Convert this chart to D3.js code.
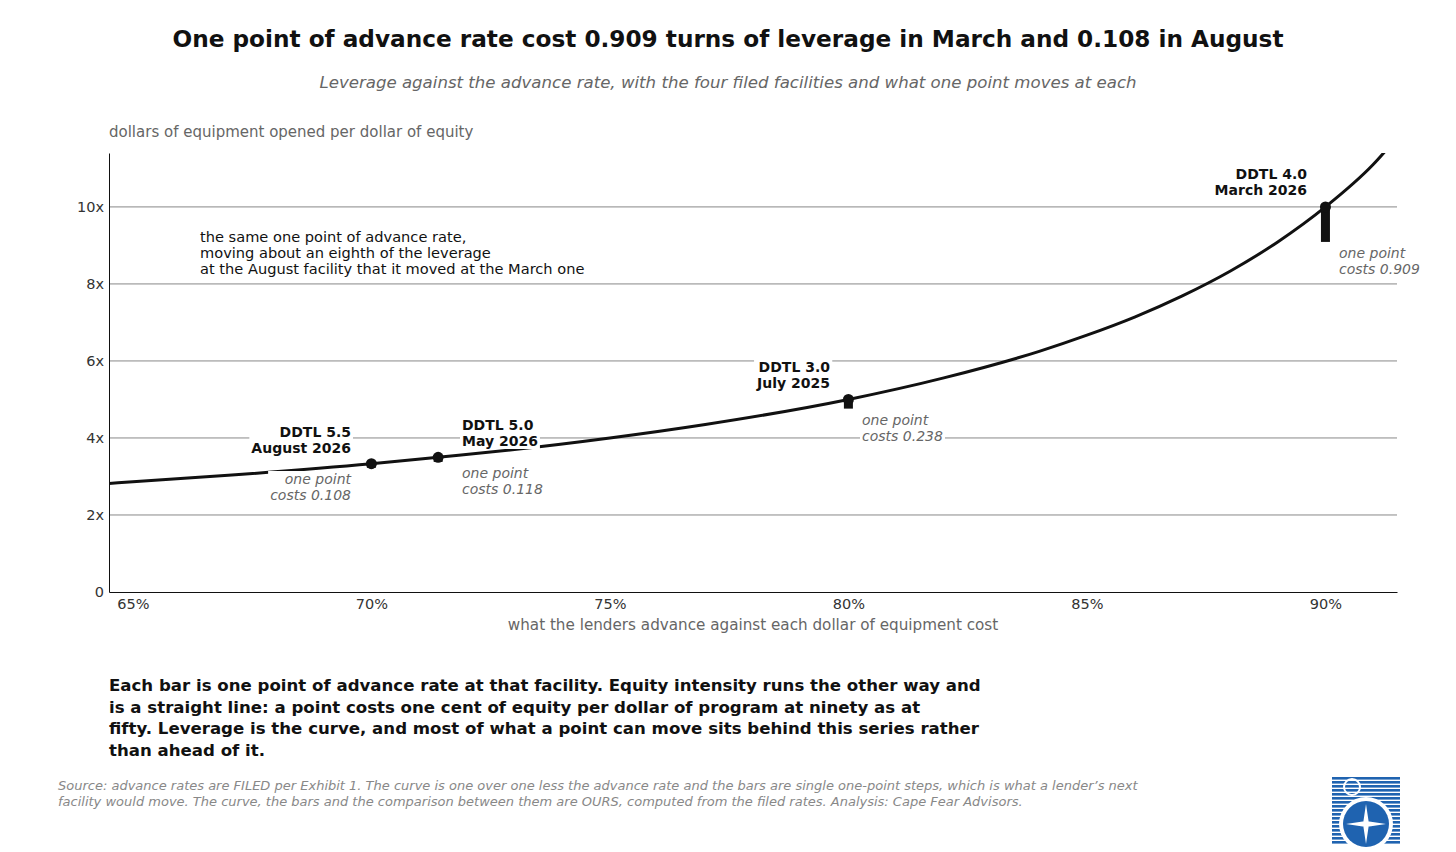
<!DOCTYPE html>
<html><head><meta charset="utf-8">
<script src="https://cdn.jsdelivr.net/npm/d3@7"></script>
<style>body{margin:0;background:#fff;font-family:"DejaVu Sans",sans-serif}</style>
</head><body>
<svg id="c" width="1456" height="852"></svg>
<script>
// leverage at each advance rate
const curveRates = [0.645, 0.65, 0.67, 0.70, 0.714, 0.73, 0.75, 0.77, 0.80, 0.82, 0.84, 0.85, 0.86, 0.87, 0.88, 0.89, 0.90, 0.91, 0.915];
const curveLev   = [2.82, 2.86, 3.03, 3.33, 3.50, 3.70, 4.00, 4.35, 5.00, 5.56, 6.25, 6.67, 7.14, 7.69, 8.33, 9.09, 10.0, 11.1, 11.8];
const facRates = [0.70, 0.714, 0.80, 0.90];
const facLev   = [3.333, 3.497, 5.00, 10.00];
const facCost  = [0.108, 0.118, 0.238, 0.909];
const facNames = ["DDTL 5.5", "DDTL 5.0", "DDTL 3.0", "DDTL 4.0"];
const facDates = ["August 2026", "May 2026", "July 2025", "March 2026"];
const yTicks = [0, 2, 4, 6, 8, 10];
const xTicks = [0.65, 0.70, 0.75, 0.80, 0.85, 0.90];

const svg = d3.select("#c");
const L = 109, R = 1397, T = 153, B = 592;
const x = d3.scaleLinear().domain([0.645, 0.915]).range([L, R]);
const y = d3.scaleLinear().domain([0, 11.4]).range([B, T]);

svg.append("text").attr("x", 728).attr("y", 47).attr("text-anchor", "middle")
  .attr("font-size", 23.2).attr("font-weight", "bold").attr("fill", "#111")
  .text("One point of advance rate cost 0.909 turns of leverage in March and 0.108 in August");
svg.append("text").attr("x", 728).attr("y", 88).attr("text-anchor", "middle")
  .attr("font-size", 16.6).attr("font-style", "italic").attr("fill", "#666")
  .text("Leverage against the advance rate, with the four filed facilities and what one point moves at each");
svg.append("text").attr("x", L).attr("y", 137).attr("font-size", 15).attr("fill", "#666")
  .text("dollars of equipment opened per dollar of equity");

// grid
svg.append("g").selectAll("line").data(yTicks.filter(d => d > 0)).join("line")
  .attr("x1", L).attr("x2", R).attr("y1", d => y(d)).attr("y2", d => y(d))
  .attr("stroke", "#888").attr("stroke-width", 1);

const yAxis = svg.append("g").attr("transform", `translate(${L},0)`)
  .call(d3.axisLeft(y).tickValues(yTicks).tickSize(0).tickPadding(5).tickFormat(d => d === 0 ? "0" : d + "x"));
yAxis.select(".domain").attr("stroke", "#111");
yAxis.selectAll("text").attr("font-size", 14.5).attr("fill", "#333").attr("font-family", "DejaVu Sans");

const xAxis = svg.append("g").attr("transform", `translate(0,${B})`)
  .call(d3.axisBottom(x).tickValues(xTicks).tickSize(0).tickPadding(7).tickFormat(d3.format(".0%")));
xAxis.select(".domain").attr("stroke", "#111");
xAxis.selectAll("text").attr("font-size", 14.5).attr("fill", "#333").attr("font-family", "DejaVu Sans");
svg.append("text").attr("x", 753).attr("y", 630).attr("text-anchor", "middle")
  .attr("font-size", 15.2).attr("fill", "#666").text("what the lenders advance against each dollar of equipment cost");

svg.append("defs").append("clipPath").attr("id", "clip")
  .append("rect").attr("x", L).attr("y", T).attr("width", R - L).attr("height", B - T);

svg.append("path").datum(d3.zip(curveRates, curveLev)).attr("clip-path", "url(#clip)")
  .attr("d", d3.line().x(d => x(d[0])).y(d => y(d[1])).curve(d3.curveMonotoneX))
  .attr("fill", "none").attr("stroke", "#111").attr("stroke-width", 3);

// bars: one point step below each facility
facRates.forEach((r, i) => {
  svg.append("rect").attr("x", x(r) - 4.5).attr("width", 9)
    .attr("y", y(facLev[i])).attr("height", y(facLev[i] - facCost[i]) - y(facLev[i]))
    .attr("fill", "#111");
  svg.append("circle").attr("cx", x(r)).attr("cy", y(facLev[i])).attr("r", 5.5).attr("fill", "#111");
});

function label(px, py, lines, anchor, opts) {
  const t = svg.append("text").attr("x", px).attr("y", py).attr("text-anchor", anchor)
    .attr("font-size", opts.size || 14).attr("fill", opts.fill).attr("font-weight", opts.bold ? "bold" : null)
    .attr("font-style", opts.italic ? "italic" : null);
  lines.forEach((s, k) => t.append("tspan").attr("x", px).attr("dy", k ? 16 : 0).text(s));
  if (opts.bg) {
    const b = t.node().getBBox();
    svg.insert("rect", () => t.node()).attr("x", b.x - 2).attr("y", b.y).attr("width", b.width + 4)
      .attr("height", b.height).attr("fill", "#fff");
  }
}
const nm = { fill: "#111", bold: true, bg: true };
const ct = { fill: "#666", italic: true, bg: true };
label(351, 437, [facNames[0], facDates[0]], "end", nm);
label(351, 484, ["one point", "costs " + facCost[0]], "end", ct);
label(462, 430, [facNames[1], facDates[1]], "start", nm);
label(462, 478, ["one point", "costs " + facCost[1]], "start", ct);
label(830, 372, [facNames[2], facDates[2]], "end", nm);
label(862, 425, ["one point", "costs " + facCost[2]], "start", ct);
label(1307, 179, [facNames[3], facDates[3]], "end", nm);
label(1339, 258, ["one point", "costs " + facCost[3]], "start", ct);

label(200, 242, ["the same one point of advance rate,", "moving about an eighth of the leverage",
  "at the August facility that it moved at the March one"], "start", { fill: "#111", size: 14.6 });

const note = ["Each bar is one point of advance rate at that facility. Equity intensity runs the other way and",
  "is a straight line: a point costs one cent of equity per dollar of program at ninety as at",
  "fifty. Leverage is the curve, and most of what a point can move sits behind this series rather",
  "than ahead of it."];
const nt = svg.append("text").attr("font-size", 16.6).attr("font-weight", "bold").attr("fill", "#111");
note.forEach((s, k) => nt.append("tspan").attr("x", L).attr("y", 691 + k * 21.5).text(s));

const src = ["Source: advance rates are FILED per Exhibit 1. The curve is one over one less the advance rate and the bars are single one-point steps, which is what a lender\u2019s next",
  "facility would move. The curve, the bars and the comparison between them are OURS, computed from the filed rates. Analysis: Cape Fear Advisors."];
const st = svg.append("text").attr("font-size", 13).attr("font-style", "italic").attr("fill", "#888");
src.forEach((s, k) => st.append("tspan").attr("x", 58).attr("y", 790 + k * 16).text(s));

// logo
const lg = svg.append("g").attr("transform", "translate(1332,777)");
d3.range(0, 68, 4).forEach(v => lg.append("rect").attr("x", 0).attr("y", v).attr("width", 68).attr("height", 2.6).attr("fill", "#1f63b0"));
lg.append("circle").attr("cx", 34).attr("cy", 47).attr("r", 27).attr("fill", "#fff");
lg.append("circle").attr("cx", 34).attr("cy", 47).attr("r", 23).attr("fill", "#1f63b0");
lg.append("circle").attr("cx", 20).attr("cy", 10).attr("r", 8).attr("fill", "none").attr("stroke", "#fff").attr("stroke-width", 2);
lg.append("path").attr("d", "M34 27 L37 47 L34 67 L31 47Z M14 47 L34 44 L54 47 L34 50Z").attr("fill", "#fff");
</script>
</body></html>
